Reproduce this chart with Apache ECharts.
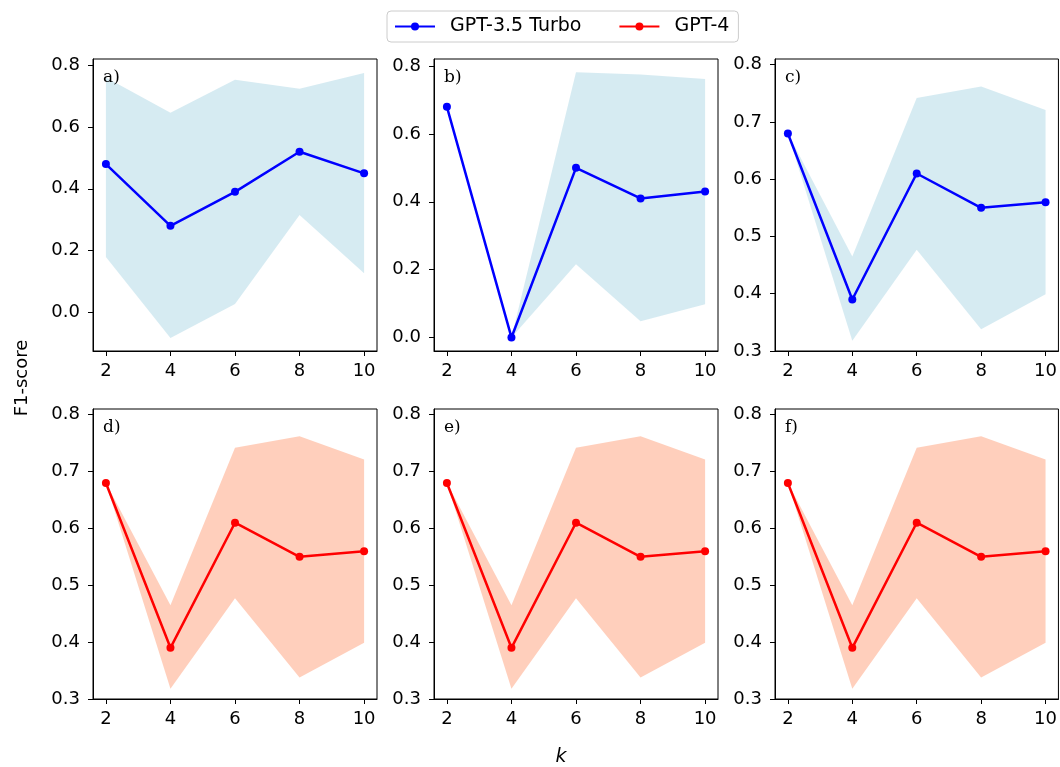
<!DOCTYPE html>
<html>
<head>
<meta charset="utf-8">
<script src="https://cdn.jsdelivr.net/npm/echarts@6/dist/echarts.min.js"></script>
<style>html,body{margin:0;padding:0;background:#fff}#c{width:1060px;height:767px}</style>
</head>
<body>
<div id="c"></div>
<script>
// ---- data ----
const kValues = [2, 4, 6, 8, 10];
const panelLabels = ['a)', 'b)', 'c)', 'd)', 'e)', 'f)'];
const seriesNames = ['GPT-3.5 Turbo', 'GPT-4'];

const meanA = [0.48, 0.28, 0.39, 0.52, 0.45];
const upperA = [0.76, 0.646, 0.753, 0.724, 0.775];
const lowerA = [0.179, -0.083, 0.027, 0.315, 0.127];

const meanB = [0.68, 0.0, 0.50, 0.41, 0.43];
const upperB = [0.68, 0.0, 0.782, 0.775, 0.762];
const lowerB = [0.68, 0.0, 0.216, 0.048, 0.098];

const meanC = [0.68, 0.39, 0.61, 0.55, 0.56];
const upperC = [0.68, 0.465, 0.742, 0.762, 0.721];
const lowerC = [0.68, 0.318, 0.477, 0.338, 0.399];

const meanD = [0.68, 0.39, 0.61, 0.55, 0.56];
const upperD = [0.68, 0.465, 0.742, 0.762, 0.721];
const lowerD = [0.68, 0.318, 0.477, 0.338, 0.399];

const meanE = [0.68, 0.39, 0.61, 0.55, 0.56];
const upperE = [0.68, 0.465, 0.742, 0.762, 0.721];
const lowerE = [0.68, 0.318, 0.477, 0.338, 0.399];

const meanF = [0.68, 0.39, 0.61, 0.55, 0.56];
const upperF = [0.68, 0.465, 0.742, 0.762, 0.721];
const lowerF = [0.68, 0.318, 0.477, 0.338, 0.399];

const yTicksAB = [0.0, 0.2, 0.4, 0.6, 0.8];
const yTicksCF = [0.3, 0.4, 0.5, 0.6, 0.7, 0.8];
const yAxisMin = [-0.125, -0.04, 0.3, 0.3, 0.3, 0.3];
const yAxisMax = [0.82, 0.821, 0.81, 0.81, 0.81, 0.81];

// ---- layout / style ----
const panels = [
  {mean: meanA, upper: upperA, lower: lowerA, model: 0, yTicks: yTicksAB},
  {mean: meanB, upper: upperB, lower: lowerB, model: 0, yTicks: yTicksAB},
  {mean: meanC, upper: upperC, lower: lowerC, model: 0, yTicks: yTicksCF},
  {mean: meanD, upper: upperD, lower: lowerD, model: 1, yTicks: yTicksCF},
  {mean: meanE, upper: upperE, lower: lowerE, model: 1, yTicks: yTicksCF},
  {mean: meanF, upper: upperF, lower: lowerF, model: 1, yTicks: yTicksCF}
];
const colLeft = [93, 434, 775];
const rowTop = [59, 409];
const rowH = [292, 290];
const gridW = 284;
const lineColors = ['#0000ff', '#ff0000'];
const bandColors = ['rgba(173,216,230,0.5)', 'rgba(255,160,122,0.5)'];
const FONT = 'DejaVu Sans';
const TICK_FS = 18;

const grids = [], xAxes = [], yAxes = [], series = [], graphics = [];
panels.forEach((p, i) => {
  const r = Math.floor(i / 3), c = i % 3;
  grids.push({left: colLeft[c], top: rowTop[r], width: gridW, height: rowH[r],
    show: true, borderColor: '#000', borderWidth: 1, backgroundColor: 'transparent', containLabel: false});
  xAxes.push({type: 'value', gridIndex: i, min: 1.6, max: 10.4,
    axisLine: {show: true, onZero: false, lineStyle: {color: '#000', width: 1}},
    axisTick: {show: true, customValues: kValues, length: 5, lineStyle: {color: '#000'}},
    axisLabel: {show: true, customValues: kValues, color: '#000', fontSize: TICK_FS, fontFamily: FONT, margin: 11,
      formatter: v => String(v)},
    splitLine: {show: false}});
  yAxes.push({type: 'value', gridIndex: i, min: yAxisMin[i], max: yAxisMax[i],
    axisLine: {show: true, onZero: false, lineStyle: {color: '#000', width: 1}},
    axisTick: {show: true, customValues: p.yTicks, length: 5, lineStyle: {color: '#000'}},
    axisLabel: {show: true, customValues: p.yTicks, color: '#000', fontSize: TICK_FS, fontFamily: FONT, margin: 13,
      formatter: v => v.toFixed(1)},
    splitLine: {show: false}});
  series.push({type: 'custom', name: 'band-' + i, xAxisIndex: i, yAxisIndex: i, silent: true, z: 1,
    data: kValues.map((k, j) => [k, p.lower[j], p.upper[j]]),
    encode: {x: 0, y: [1, 2]},
    renderItem: (params, api) => {
      if (params.dataIndex !== 0) return null;
      const pts = [];
      for (let j = 0; j < kValues.length; j++) pts.push(api.coord([kValues[j], p.upper[j]]));
      for (let j = kValues.length - 1; j >= 0; j--) pts.push(api.coord([kValues[j], p.lower[j]]));
      return {type: 'polygon', shape: {points: pts}, style: {fill: bandColors[p.model], stroke: null}};
    }});
  series.push({type: 'line', name: seriesNames[p.model], xAxisIndex: i, yAxisIndex: i,
    data: kValues.map((k, j) => [k, p.mean[j]]),
    color: lineColors[p.model], symbol: 'circle', symbolSize: 8, showSymbol: true,
    lineStyle: {color: lineColors[p.model], width: 2.5}, itemStyle: {color: lineColors[p.model]}, z: 3});
  graphics.push({type: 'text', left: colLeft[c] + 10, top: rowTop[r] + 10, z: 10,
    style: {text: panelLabels[i], font: '17px "DejaVu Serif"', fill: '#000'}});
});

graphics.push({type: 'text', x: 22, y: 378, rotation: Math.PI / 2, z: 10,
  style: {text: 'F1-score', font: '18px "DejaVu Sans"', fill: '#000', align: 'center', verticalAlign: 'middle'}});
graphics.push({type: 'text', x: 561, y: 757, z: 10,
  style: {text: 'k', font: 'italic 19px "DejaVu Sans"', fill: '#000', align: 'center', verticalAlign: 'middle'}});

const chart = echarts.init(document.getElementById('c'), null, {renderer: 'canvas'});
chart.setOption({
  animation: false,
  backgroundColor: '#fff',
  legend: {
    data: seriesNames, top: 11, left: 387,
    itemWidth: 40, itemHeight: 10, itemGap: 37,
    padding: [6, 9, 6, 7],
    borderColor: '#cccccc', borderWidth: 1, borderRadius: 4,
    textStyle: {fontSize: 19, fontFamily: FONT, color: '#000', padding: [0, 0, 0, 10]}
  },
  grid: grids, xAxis: xAxes, yAxis: yAxes, series: series, graphic: graphics
});
</script>
</body>
</html>
